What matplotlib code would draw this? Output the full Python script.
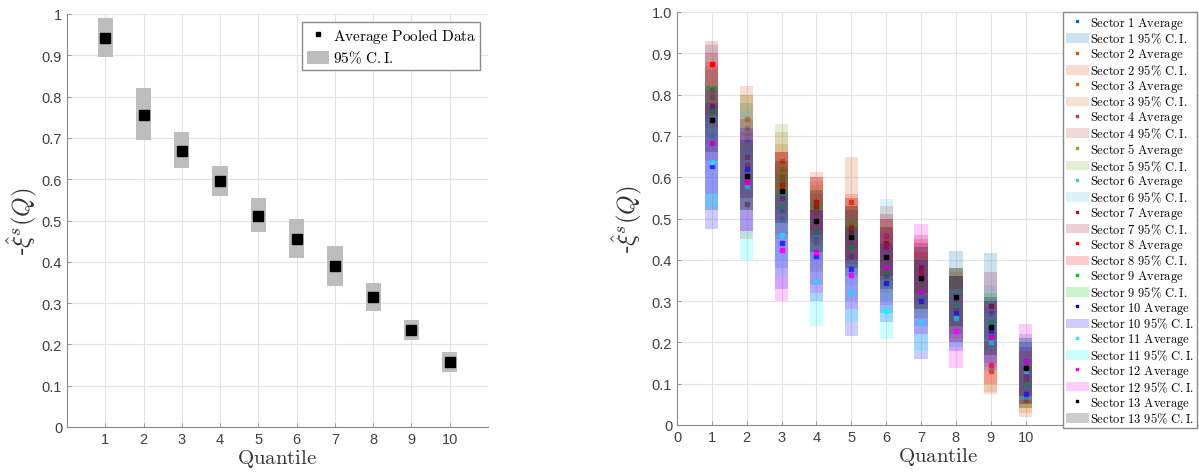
import numpy as np
import matplotlib
matplotlib.use('Agg')
import matplotlib.pyplot as plt
from matplotlib.lines import Line2D
from matplotlib.patches import Patch

plt.rcParams['mathtext.fontset'] = 'cm'
plt.rcParams['font.family'] = ['Liberation Sans', 'DejaVu Sans']

quantiles = np.arange(1, 11)

# pooled data (left panel)
pooled_avg = [0.942, 0.756, 0.669, 0.595, 0.512, 0.456, 0.390, 0.315, 0.234, 0.157]
pooled_lo = [0.897, 0.695, 0.627, 0.559, 0.472, 0.409, 0.341, 0.281, 0.211, 0.133]
pooled_hi = [0.990, 0.820, 0.714, 0.631, 0.554, 0.504, 0.438, 0.349, 0.258, 0.181]

# per sector data (right panel)
sector_avg = {
    1: [0.810, 0.690, 0.520, 0.450, 0.410, 0.360, 0.330, 0.300, 0.270, 0.140],
    2: [0.800, 0.741, 0.600, 0.520, 0.541, 0.430, 0.340, 0.290, 0.130, 0.060],
    3: [0.800, 0.720, 0.640, 0.510, 0.470, 0.410, 0.350, 0.280, 0.140, 0.080],
    4: [0.795, 0.535, 0.590, 0.442, 0.440, 0.457, 0.360, 0.300, 0.220, 0.120],
    5: [0.761, 0.700, 0.620, 0.500, 0.450, 0.390, 0.340, 0.310, 0.240, 0.110],
    6: [0.700, 0.660, 0.500, 0.462, 0.430, 0.420, 0.310, 0.270, 0.250, 0.130],
    7: [0.773, 0.648, 0.550, 0.531, 0.470, 0.440, 0.382, 0.281, 0.289, 0.120],
    8: [0.875, 0.630, 0.580, 0.540, 0.480, 0.430, 0.370, 0.280, 0.145, 0.110],
    9: [0.760, 0.600, 0.530, 0.470, 0.430, 0.370, 0.330, 0.290, 0.250, 0.100],
    10: [0.626, 0.620, 0.440, 0.410, 0.378, 0.344, 0.301, 0.270, 0.230, 0.075],
    11: [0.638, 0.579, 0.460, 0.349, 0.321, 0.277, 0.249, 0.260, 0.200, 0.130],
    12: [0.684, 0.589, 0.424, 0.418, 0.362, 0.382, 0.325, 0.228, 0.212, 0.156],
    13: [0.738, 0.604, 0.567, 0.495, 0.454, 0.406, 0.356, 0.309, 0.237, 0.137],
}
sector_lo = {
    1: [0.520, 0.550, 0.380, 0.340, 0.300, 0.270, 0.240, 0.220, 0.180, 0.080],
    2: [0.720, 0.660, 0.520, 0.440, 0.430, 0.350, 0.260, 0.210, 0.075, 0.019],
    3: [0.740, 0.650, 0.570, 0.440, 0.400, 0.340, 0.280, 0.200, 0.080, 0.030],
    4: [0.720, 0.450, 0.520, 0.370, 0.360, 0.380, 0.280, 0.220, 0.140, 0.050],
    5: [0.680, 0.620, 0.510, 0.420, 0.370, 0.320, 0.270, 0.240, 0.170, 0.040],
    6: [0.520, 0.550, 0.400, 0.380, 0.340, 0.300, 0.220, 0.190, 0.160, 0.060],
    7: [0.640, 0.550, 0.460, 0.450, 0.390, 0.360, 0.300, 0.200, 0.210, 0.050],
    8: [0.820, 0.550, 0.500, 0.470, 0.400, 0.360, 0.290, 0.200, 0.100, 0.040],
    9: [0.700, 0.520, 0.450, 0.400, 0.360, 0.300, 0.260, 0.220, 0.180, 0.040],
    10: [0.475, 0.470, 0.330, 0.300, 0.215, 0.250, 0.160, 0.180, 0.150, 0.050],
    11: [0.530, 0.400, 0.360, 0.240, 0.250, 0.208, 0.180, 0.190, 0.130, 0.060],
    12: [0.560, 0.470, 0.300, 0.320, 0.280, 0.290, 0.220, 0.137, 0.130, 0.070],
    13: [0.660, 0.520, 0.490, 0.420, 0.380, 0.330, 0.280, 0.240, 0.170, 0.070],
}
sector_hi = {
    1: [0.920, 0.780, 0.620, 0.560, 0.520, 0.500, 0.440, 0.422, 0.416, 0.220],
    2: [0.880, 0.820, 0.680, 0.613, 0.650, 0.500, 0.420, 0.370, 0.200, 0.120],
    3: [0.860, 0.800, 0.710, 0.590, 0.550, 0.480, 0.420, 0.360, 0.210, 0.140],
    4: [0.870, 0.620, 0.660, 0.520, 0.520, 0.530, 0.440, 0.380, 0.300, 0.190],
    5: [0.840, 0.800, 0.729, 0.580, 0.530, 0.460, 0.410, 0.380, 0.310, 0.180],
    6: [0.860, 0.760, 0.600, 0.550, 0.520, 0.547, 0.400, 0.360, 0.340, 0.200],
    7: [0.900, 0.740, 0.660, 0.600, 0.550, 0.510, 0.460, 0.360, 0.370, 0.190],
    8: [0.930, 0.710, 0.660, 0.600, 0.560, 0.500, 0.450, 0.360, 0.200, 0.180],
    9: [0.820, 0.680, 0.610, 0.540, 0.500, 0.440, 0.400, 0.360, 0.320, 0.160],
    10: [0.780, 0.720, 0.560, 0.520, 0.480, 0.440, 0.400, 0.360, 0.310, 0.200],
    11: [0.750, 0.700, 0.560, 0.460, 0.400, 0.350, 0.320, 0.330, 0.270, 0.200],
    12: [0.810, 0.700, 0.550, 0.520, 0.450, 0.470, 0.487, 0.320, 0.290, 0.245],
    13: [0.820, 0.690, 0.640, 0.570, 0.530, 0.480, 0.430, 0.380, 0.300, 0.210],
}
sector_colors = ['#0072BD', '#D95319', '#D2691E', '#B0413E', '#77AC30', '#4DBEEE',
                 '#A2142F', '#FF0000', '#00CC00', '#0000FF', '#00FFFF', '#FF00FF', '#000000']

fig = plt.figure(figsize=(11.99, 4.77), dpi=100)
W, H = 1199., 477.
ax1 = fig.add_axes([67/W, (H-428)/H, (488-67)/W, (428-15)/H])
ax2 = fig.add_axes([677/W, (H-426)/H, (1200-677)/W, (426-13)/H])

def style_axes(ax, pad):
    ax.grid(True, color='#e3e3e3', linewidth=0.8)
    ax.set_axisbelow(True)
    for s in ['top', 'right']:
        ax.spines[s].set_visible(False)
    for s in ['left', 'bottom']:
        ax.spines[s].set_color('#8a8a8a')
        ax.spines[s].set_linewidth(0.8)
    ax.tick_params(direction='in', length=3, width=0.6, color='#8a8a8a',
                   labelsize=10.5, labelcolor='#404040')
    ax.set_xlabel(r'$\mathrm{Quantile}$', fontsize=15, color='#333333', labelpad=1)
    ax.set_ylabel(r'-$\hat{\xi}^s(Q)$', fontsize=18, color='#333333', labelpad=pad)

# left panel
ci_w = 0.4
lo = np.array(pooled_lo)
hi = np.array(pooled_hi)
ax1.bar(quantiles, hi - lo, bottom=lo, width=ci_w, color='#bdbdbd', zorder=2)
ax1.plot(quantiles, pooled_avg, 's', color='black', markersize=7, zorder=3)
ax1.set_xlim(0, 11)
ax1.set_ylim(0, 1)
ax1.set_xticks(quantiles)
ax1.set_yticks(np.arange(0, 1.01, 0.1))
ax1.set_yticklabels(['0'] + ['%.1f' % v for v in np.arange(0.1, 0.95, 0.1)] + ['1'])
style_axes(ax1, 1)
h1 = [Line2D([], [], marker='s', color='black', linestyle='none', markersize=3.5),
      Patch(facecolor='#bdbdbd', edgecolor='none')]
ax1.legend(h1, [r'$\mathrm{Average\ Pooled\ Data}$', r'$\mathrm{95\%\ C.I.}$'],
           loc='upper right', fontsize=11, fancybox=False, edgecolor='#8a8a8a',
           framealpha=1, handlelength=1.5, handleheight=0.9, handletextpad=0.2,
           borderpad=0.3, labelspacing=0.25, borderaxespad=0.5)

# right panel: each sector draws its marker, then its C.I. patch on top
handles, labels = [], []
z = 2
for i in range(1, 14):
    c = sector_colors[i - 1]
    slo = np.array(sector_lo[i])
    shi = np.array(sector_hi[i])
    ax2.plot(quantiles, sector_avg[i], 's', color=c, markersize=3.5, zorder=z)
    ax2.bar(quantiles, shi - slo, bottom=slo, width=0.38, color=c, alpha=0.2,
            linewidth=0, zorder=z + 1)
    z += 2
    handles.append(Line2D([], [], marker='s', color=c, linestyle='none', markersize=2))
    handles.append(Patch(facecolor=c, alpha=0.2, edgecolor='none'))
    labels.append(r'$\mathrm{Sector\ %d\ Average}$' % i)
    labels.append(r'$\mathrm{Sector\ %d\ 95\%%\ C.I.}$' % i)
ax2.set_xlim(0, 15)
ax2.set_ylim(0, 1)
ax2.set_xticks(np.arange(0, 11))
ax2.set_yticks(np.arange(0, 1.01, 0.1))
ax2.set_yticklabels(['%.1f' % v if v > 0 else '0' for v in np.arange(0, 1.01, 0.1)])
style_axes(ax2, 5)
leg = ax2.legend(handles, labels, loc='upper left', bbox_to_anchor=(1063/W, (H-13)/H),
                 bbox_transform=fig.transFigure, fontsize=9, fancybox=False,
                 edgecolor='#8a8a8a', framealpha=1, handlelength=1.9, handleheight=0.8,
                 handletextpad=0.1, borderpad=0.2, labelspacing=0.05, borderaxespad=0)
leg.set_zorder(100)

plt.savefig('out.png', dpi=100)
